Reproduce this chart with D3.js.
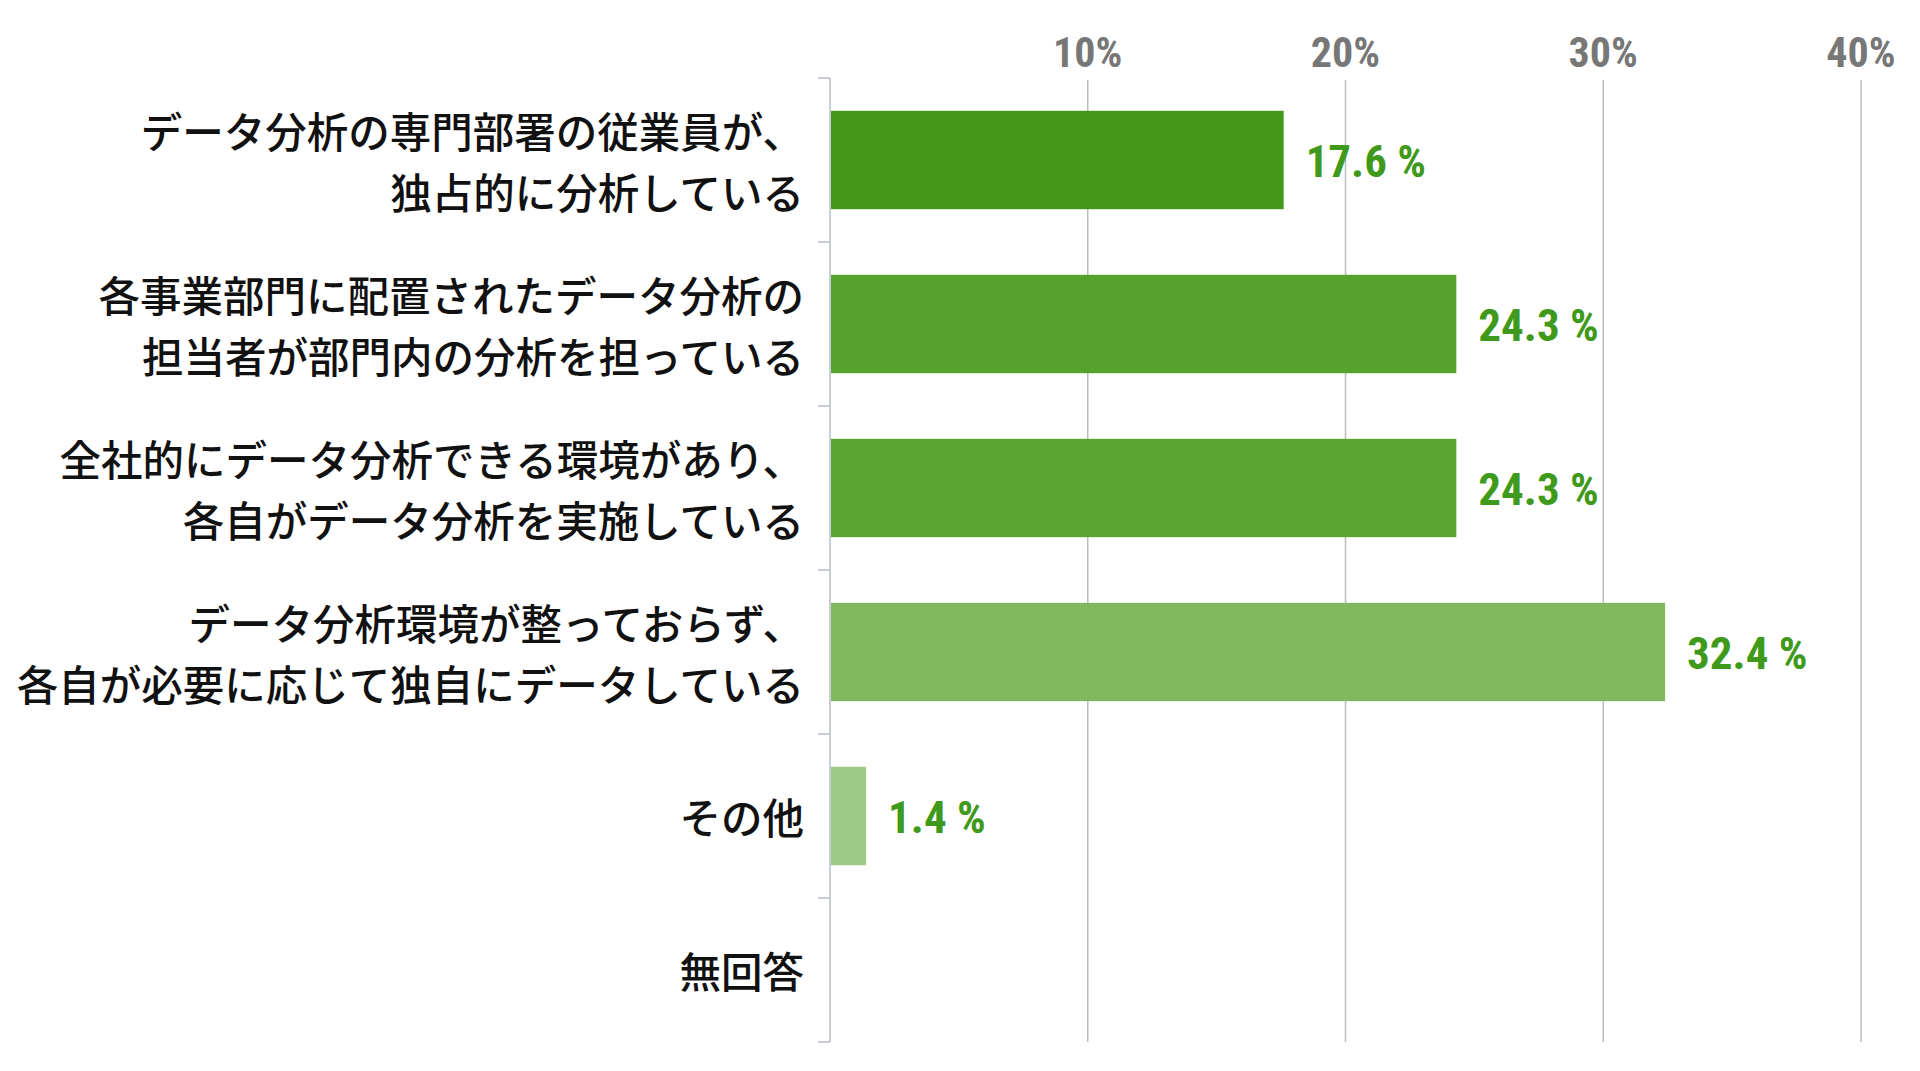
<!DOCTYPE html>
<html>
<head>
<meta charset="utf-8">
<script src="https://cdn.jsdelivr.net/npm/d3@7"></script>
<style>
  html, body { margin: 0; padding: 0; background: #ffffff; }
  svg { display: block; }
</style>
</head>
<body>
<script>
// categories (each label split into its lines)
var categories = [
  ["データ分析の専門部署の従業員が、", "独占的に分析している"],
  ["各事業部門に配置されたデータ分析の", "担当者が部門内の分析を担っている"],
  ["全社的にデータ分析できる環境があり、", "各自がデータ分析を実施している"],
  ["データ分析環境が整っておらず、", "各自が必要に応じて独自にデータしている"],
  ["その他"],
  ["無回答"]
];
var values = [17.6, 24.3, 24.3, 32.4, 1.4, null];
var barColors = ["#43981a", "#56a22e", "#5aa532", "#80b85e", "#9dcb85", "#9dcb85"];
var ticks = [10, 20, 30, 40];

var width = 1920, height = 1071;
var x0 = 830, plotTop = 78, plotBottom = 1042;

var svg = d3.select("body").append("svg")
            .attr("width", width)
            .attr("height", height);

var x = d3.scaleLinear().domain([0, 40]).range([x0, 1861]);
var y = d3.scaleBand()
          .domain(d3.range(categories.length))
          .range([plotTop, plotTop + 164 * categories.length])
          .paddingInner(0.4)
          .paddingOuter(0.2);

// gridlines
svg.selectAll("line.grid")
    .data(ticks)
    .enter().append("line")
              .attr("class", "grid")
              .attr("x1", function(d){return x(d);})
              .attr("x2", function(d){return x(d);})
              .attr("y1", plotTop + 2)
              .attr("y2", plotBottom)
              .attr("stroke", "#bdbdbd")
              .attr("stroke-width", 1.5);

// tick labels on top
svg.selectAll("text.tick")
    .data(ticks)
    .enter().append("text")
              .attr("class", "tick")
              .attr("x", function(d){return x(d);})
              .attr("y", 52)
              .attr("text-anchor", "middle")
              .attr("dominant-baseline", "central")
              .attr("font-family", "'Liberation Sans Narrow', 'Roboto Condensed', Roboto, sans-serif")
              .attr("font-weight", "bold")
              .attr("font-size", 42)
              .attr("fill", "#777777")
              .text(function(d){return d + "%";});

// category axis line and separators
svg.append("line")
    .attr("x1", x0).attr("x2", x0)
    .attr("y1", plotTop).attr("y2", plotBottom)
    .attr("stroke", "#c9cdd8")
    .attr("stroke-width", 2);

var seps = d3.range(categories.length).map(function(i){return y(i) - y.step() * y.paddingOuter();});
seps.push(plotBottom);
svg.selectAll("line.sep")
    .data(seps)
    .enter().append("line")
              .attr("class", "sep")
              .attr("x1", x0 - 12)
              .attr("x2", x0)
              .attr("y1", function(d){return d;})
              .attr("y2", function(d){return d;})
              .attr("stroke", "#c9cdd8")
              .attr("stroke-width", 2);

// bars
svg.selectAll("rect.bar")
    .data(values)
    .enter().filter(function(d){return d != null;}).append("rect")
              .attr("class", "bar")
              .attr("x", x0 + 1)
              .attr("y", function(d,i){return y(i);})
              .attr("width", function(d){return x(d) - x0 - 1;})
              .attr("height", y.bandwidth())
              .attr("fill", function(d,i){return barColors[i];});

// value labels
svg.selectAll("text.value")
    .data(values)
    .enter().filter(function(d){return d != null;}).append("text")
              .attr("class", "value")
              .attr("x", function(d){return x(d) + 22;})
              .attr("y", function(d,i){return y(i) + y.bandwidth() / 2 + 1;})
              .attr("dominant-baseline", "central")
              .attr("font-family", "'Liberation Sans Narrow', 'Roboto Condensed', Roboto, sans-serif")
              .attr("font-weight", "bold")
              .attr("font-size", 45)
              .attr("fill", "#3f9a1c")
              .text(function(d){return d.toFixed(1) + " %";});

// category labels
var labels = svg.selectAll("text.cat")
    .data(categories)
    .enter().append("text")
              .attr("class", "cat")
              .attr("text-anchor", "end")
              .attr("font-family", "'Noto Sans CJK JP', sans-serif")
              .attr("font-weight", 500)
              .attr("font-size", 41.5)
              .attr("fill", "#111111");

labels.selectAll("tspan")
    .data(function(d,i){return d.map(function(t,j){return {t: t, j: j, n: d.length, i: i};});})
    .enter().append("tspan")
              .attr("x", 804)
              .attr("y", function(d){
                var c = y(d.i) + y.bandwidth() / 2;
                if (d.i === categories.length - 1) c = c - 10;
                return c + (d.j - (d.n - 1) / 2) * 61;
              })
              .attr("dominant-baseline", "central")
              .text(function(d){return d.t;});
</script>
</body>
</html>
